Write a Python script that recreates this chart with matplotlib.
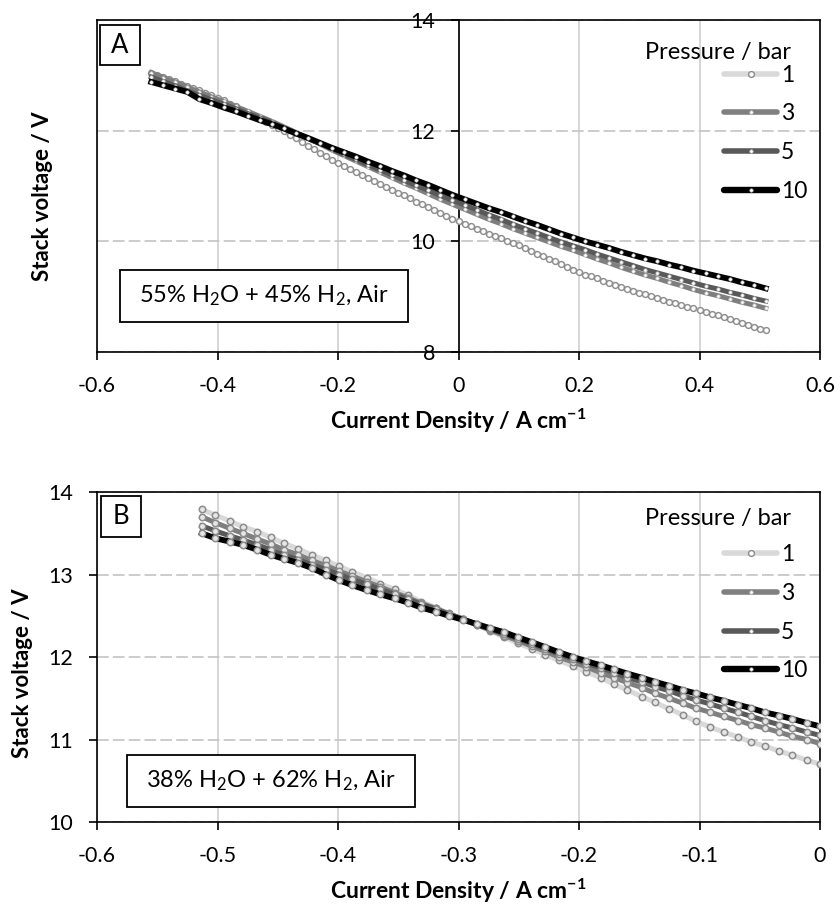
import matplotlib
matplotlib.use("Agg")
import matplotlib.pyplot as plt
from matplotlib.lines import Line2D
from matplotlib.patches import Rectangle

plt.rcParams['font.family'] = ['Lato', 'DejaVu Sans']
plt.rcParams['mathtext.fontset'] = 'custom'
plt.rcParams['mathtext.rm'] = 'Lato'
plt.rcParams['mathtext.it'] = 'Lato:italic'
plt.rcParams['mathtext.bf'] = 'Lato:bold'
plt.rcParams['axes.unicode_minus'] = False

# ---------------- data ----------------
pressures = ['1', '3', '5', '10']

# panel A: 55% H2O + 45% H2
a_current_fine = [
    -0.51, -0.50, -0.49, -0.48, -0.47, -0.46, -0.45, -0.44, -0.43, -0.42, -0.41, -0.40,
    -0.39, -0.38, -0.37, -0.36, -0.35, -0.34, -0.33, -0.32, -0.31, -0.30,
    -0.29, -0.28, -0.27, -0.26, -0.25, -0.24, -0.23, -0.22, -0.21, -0.20,
    -0.19, -0.18, -0.17, -0.16, -0.15, -0.14, -0.13, -0.12, -0.11, -0.10,
    -0.09, -0.08, -0.07, -0.06, -0.05, -0.04, -0.03, -0.02, -0.01, 0.00,
    0.01, 0.02, 0.03, 0.04, 0.05, 0.06, 0.07, 0.08, 0.09, 0.10,
    0.11, 0.12, 0.13, 0.14, 0.15, 0.16, 0.17, 0.18, 0.19, 0.20,
    0.21, 0.22, 0.23, 0.24, 0.25, 0.26, 0.27, 0.28, 0.29, 0.30,
    0.31, 0.32, 0.33, 0.34, 0.35, 0.36, 0.37, 0.38, 0.39, 0.40,
    0.41, 0.42, 0.43, 0.44, 0.45, 0.46, 0.47, 0.48, 0.49, 0.50, 0.51]
a_volt_1bar = [
    13.05, 13.01, 12.97, 12.93, 12.89, 12.85, 12.81, 12.77, 12.73, 12.69, 12.65, 12.60,
    12.55, 12.49, 12.44, 12.38, 12.33, 12.27, 12.22, 12.16, 12.11, 12.05,
    11.99, 11.92, 11.86, 11.80, 11.73, 11.67, 11.60, 11.54, 11.47, 11.41,
    11.36, 11.30, 11.25, 11.20, 11.14, 11.09, 11.04, 10.98, 10.93, 10.88,
    10.83, 10.78, 10.72, 10.67, 10.62, 10.57, 10.51, 10.46, 10.41, 10.36,
    10.31, 10.27, 10.23, 10.19, 10.14, 10.10, 10.06, 10.01, 9.97, 9.93,
    9.88, 9.83, 9.78, 9.73, 9.68, 9.64, 9.59, 9.54, 9.49, 9.44,
    9.40, 9.37, 9.33, 9.29, 9.25, 9.22, 9.18, 9.14, 9.11, 9.07,
    9.04, 9.01, 8.97, 8.94, 8.91, 8.89, 8.85, 8.81, 8.79, 8.76,
    8.73, 8.69, 8.66, 8.63, 8.59, 8.56, 8.52, 8.49, 8.46, 8.42, 8.39]

a_current = [
    -0.51, -0.49, -0.47, -0.45, -0.43, -0.41, -0.39, -0.37, -0.35, -0.33,
    -0.31, -0.29, -0.27, -0.25, -0.23, -0.21, -0.19, -0.17, -0.15, -0.13,
    -0.11, -0.09, -0.07, -0.05, -0.03, -0.01, 0.01, 0.03, 0.05, 0.07,
    0.09, 0.11, 0.13, 0.15, 0.17, 0.19, 0.21, 0.23, 0.25, 0.27,
    0.29, 0.31, 0.33, 0.35, 0.37, 0.39, 0.41, 0.43, 0.45, 0.47, 0.49, 0.51]
a_volt_3bar = [
    13.05, 12.96, 12.88, 12.79, 12.70, 12.61, 12.53, 12.44, 12.35, 12.26,
    12.17, 12.07, 11.97, 11.86, 11.76, 11.65, 11.55, 11.45, 11.35, 11.25,
    11.15, 11.05, 10.96, 10.86, 10.76, 10.67, 10.58, 10.49, 10.40, 10.32,
    10.23, 10.15, 10.07, 9.99, 9.91, 9.84, 9.76, 9.68, 9.61, 9.53,
    9.46, 9.39, 9.33, 9.26, 9.20, 9.13, 9.07, 9.02, 8.96, 8.90, 8.85, 8.79]
a_volt_5bar = [
    12.97, 12.89, 12.81, 12.72, 12.64, 12.56, 12.48, 12.40, 12.31, 12.23,
    12.15, 12.05, 11.96, 11.86, 11.77, 11.67, 11.57, 11.48, 11.38, 11.29,
    11.20, 11.10, 11.01, 10.92, 10.83, 10.74, 10.66, 10.57, 10.48, 10.40,
    10.31, 10.23, 10.15, 10.07, 9.99, 9.92, 9.85, 9.77, 9.70, 9.63,
    9.56, 9.49, 9.43, 9.37, 9.31, 9.25, 9.19, 9.14, 9.08, 9.03, 8.97, 8.92]
a_volt_10bar = [
    12.88, 12.82, 12.76, 12.70, 12.57, 12.50, 12.42, 12.35, 12.27, 12.19,
    12.12, 12.04, 11.95, 11.87, 11.78, 11.69, 11.61, 11.53, 11.44, 11.36,
    11.27, 11.19, 11.10, 11.02, 10.93, 10.84, 10.76, 10.68, 10.60, 10.53,
    10.45, 10.37, 10.30, 10.22, 10.14, 10.07, 10.00, 9.94, 9.88, 9.81,
    9.75, 9.69, 9.64, 9.58, 9.53, 9.47, 9.42, 9.37, 9.32, 9.26, 9.21, 9.15]

# panel B: 38% H2O + 62% H2
b_current = [
    -0.513, -0.502, -0.490, -0.479, -0.467, -0.456, -0.445, -0.433, -0.422, -0.410,
    -0.399, -0.388, -0.376, -0.365, -0.353, -0.342, -0.331, -0.319, -0.308, -0.296,
    -0.285, -0.274, -0.262, -0.251, -0.239, -0.228, -0.217, -0.205, -0.194, -0.182,
    -0.171, -0.160, -0.148, -0.137, -0.125, -0.114, -0.103, -0.091, -0.080, -0.068,
    -0.057, -0.046, -0.034, -0.023, -0.011, 0.000]
b_volt_1bar = [
    13.79, 13.72, 13.65, 13.58, 13.52, 13.45, 13.38, 13.31, 13.24, 13.17,
    13.10, 13.03, 12.96, 12.89, 12.82, 12.75, 12.67, 12.60, 12.53, 12.46,
    12.39, 12.32, 12.24, 12.17, 12.10, 12.03, 11.96, 11.89, 11.82, 11.75,
    11.67, 11.60, 11.52, 11.45, 11.37, 11.30, 11.22, 11.15, 11.09, 11.03,
    10.97, 10.92, 10.86, 10.81, 10.75, 10.70]
b_volt_3bar = [
    13.70, 13.63, 13.56, 13.50, 13.43, 13.37, 13.30, 13.24, 13.17, 13.11,
    13.04, 12.98, 12.91, 12.85, 12.78, 12.72, 12.65, 12.59, 12.52, 12.46,
    12.39, 12.33, 12.26, 12.20, 12.13, 12.07, 12.00, 11.94, 11.88, 11.81,
    11.75, 11.69, 11.63, 11.56, 11.50, 11.44, 11.38, 11.33, 11.28, 11.23,
    11.18, 11.14, 11.09, 11.04, 11.00, 10.95]
b_volt_5bar = [
    13.59, 13.53, 13.47, 13.42, 13.36, 13.30, 13.24, 13.18, 13.12, 13.06,
    13.00, 12.94, 12.88, 12.82, 12.76, 12.70, 12.64, 12.58, 12.52, 12.46,
    12.40, 12.34, 12.28, 12.22, 12.16, 12.10, 12.04, 11.98, 11.92, 11.87,
    11.81, 11.75, 11.70, 11.64, 11.59, 11.53, 11.48, 11.43, 11.38, 11.33,
    11.28, 11.23, 11.18, 11.14, 11.09, 11.05]
b_volt_10bar = [
    13.50, 13.44, 13.40, 13.36, 13.30, 13.24, 13.19, 13.14, 13.08, 13.00,
    12.93, 12.87, 12.81, 12.76, 12.71, 12.66, 12.60, 12.55, 12.50, 12.45,
    12.40, 12.35, 12.30, 12.24, 12.18, 12.12, 12.06, 12.00, 11.95, 11.90,
    11.85, 11.80, 11.75, 11.70, 11.65, 11.60, 11.56, 11.51, 11.47, 11.42,
    11.38, 11.33, 11.29, 11.25, 11.20, 11.16]

a_xticks = [-0.6, -0.4, -0.2, 0.0, 0.2, 0.4, 0.6]
a_xticklabels = ['-0.6', '-0.4', '-0.2', '0', '0.2', '0.4', '0.6']
a_yticks = [8, 10, 12, 14]
b_xticks = [-0.6, -0.5, -0.4, -0.3, -0.2, -0.1, 0.0]
b_xticklabels = ['-0.6', '-0.5', '-0.4', '-0.3', '-0.2', '-0.1', '0']
b_yticks = [10, 11, 12, 13, 14]

# ---------------- styles ----------------
line_colors = ['#d9d9d9', '#7f7f7f', '#595959', '#000000']
line_widths = [3.6, 3.6, 3.6, 4.2]
ring_style = dict(marker='o', ms=4.2, mfc='white', mec='#8c8c8c', mew=1.0)
dot_style = dict(marker='o', ms=2.4, mfc='white', mec='#c8c8c8', mew=0.5)
ring_style_b = dict(marker='o', ms=4.6, mfc='#e6e6e6', mec='#8c8c8c', mew=1.1)

fig = plt.figure(figsize=(8.4, 9.11), dpi=100)
ax_a = fig.add_axes([0.1155, 0.6136, 0.8607, 0.3644])
ax_b = fig.add_axes([0.1155, 0.0977, 0.8607, 0.3622])


def style_axes(ax):
    ax.set_axisbelow(True)
    ax.xaxis.grid(True, color='#d0d0d0', lw=1.2, ls='-')
    ax.yaxis.grid(True, color='#c4c4c4', lw=1.2, ls=(0, (7, 2.5)))
    for s in ax.spines.values():
        s.set_linewidth(1.2)
        s.set_color('black')
    ax.tick_params(direction='out', length=6, width=1.2, labelsize=15.5,
                   pad=11, colors='black')
    ax.set_xlabel('Current Density / A cm$^{\\mathbf{-1}}$', fontsize=16.5,
                  fontweight='bold', labelpad=8)
    ax.set_ylabel('Stack voltage / V', fontsize=16, fontweight='bold')


def legend_handles():
    hs = []
    for i, lab in enumerate(pressures):
        st = ring_style if i == 0 else dot_style
        hs.append(Line2D([], [], color=line_colors[i], lw=line_widths[i] + 0.4,
                         solid_capstyle='round', label=lab, **st))
    return hs


def add_box(ax, x0, y0, w, h, text, size):
    ax.add_patch(Rectangle((x0, y0), w, h, transform=ax.transAxes,
                           fc='white', ec='black', lw=1.3, zorder=6))
    ax.text(x0 + w / 2, y0 + h / 2, text, transform=ax.transAxes,
            ha='center', va='center', fontsize=size, zorder=7)


def add_legend(ax, title_y, top):
    ax.text(0.960, title_y, 'Pressure / bar', transform=ax.transAxes,
            ha='right', va='center', fontsize=17)
    ax.legend(handles=legend_handles(), loc='upper right',
              bbox_to_anchor=(0.982, top), frameon=False, fontsize=16.5,
              handlelength=2.3, handletextpad=0.15, labelspacing=0.78,
              borderpad=0, borderaxespad=0)


# ---------------- panel A ----------------
ax_a.plot(a_current_fine, a_volt_1bar, color=line_colors[0], lw=line_widths[0],
          zorder=3, **ring_style)
ax_a.plot(a_current, a_volt_3bar, color=line_colors[1], lw=line_widths[1],
          zorder=3, **dot_style)
ax_a.plot(a_current, a_volt_5bar, color=line_colors[2], lw=line_widths[2],
          zorder=3, **dot_style)
ax_a.plot(a_current, a_volt_10bar, color=line_colors[3], lw=line_widths[3],
          zorder=3, **dot_style)

ax_a.set_xlim(-0.6, 0.6)
ax_a.set_ylim(8, 14)
ax_a.set_xticks(a_xticks)
ax_a.set_xticklabels(a_xticklabels)
ax_a.set_yticks(a_yticks)
style_axes(ax_a)
ax_a.spines['left'].set_position(('data', 0))
ax_a.plot([0, 0], [0, 1], transform=ax_a.transAxes, color='black', lw=1.2,
          clip_on=False, zorder=4)
ax_a.yaxis.set_label_coords(-0.061, 0.47)

add_box(ax_a, 0.004, 0.864, 0.055, 0.121, 'A', 18.5)
add_box(ax_a, 0.0318, 0.090, 0.398, 0.157,
        '55% H$_2$O + 45% H$_2$, Air', 17)
add_legend(ax_a, 0.902, 0.866)

# ---------------- panel B ----------------
ax_b.plot(b_current, b_volt_1bar, color=line_colors[0], lw=line_widths[0],
          zorder=3, **ring_style_b)
ax_b.plot(b_current, b_volt_3bar, color=line_colors[1], lw=line_widths[1],
          zorder=3, **ring_style_b)
ax_b.plot(b_current, b_volt_5bar, color=line_colors[2], lw=line_widths[2],
          zorder=3, **ring_style_b)
ax_b.plot(b_current, b_volt_10bar, color=line_colors[3], lw=line_widths[3],
          zorder=3, **ring_style_b)

ax_b.set_xlim(-0.6, 0.0)
ax_b.set_ylim(10, 14)
ax_b.set_xticks(b_xticks)
ax_b.set_xticklabels(b_xticklabels)
ax_b.set_yticks(b_yticks)
style_axes(ax_b)
ax_b.yaxis.set_label_coords(-0.0885, 0.45)

add_box(ax_b, 0.0055, 0.864, 0.0555, 0.124, 'B', 18.5)
add_box(ax_b, 0.041, 0.046, 0.399, 0.157,
        '38% H$_2$O + 62% H$_2$, Air', 17)
add_legend(ax_b, 0.921, 0.843)

fig.savefig('out.png', dpi=100)
